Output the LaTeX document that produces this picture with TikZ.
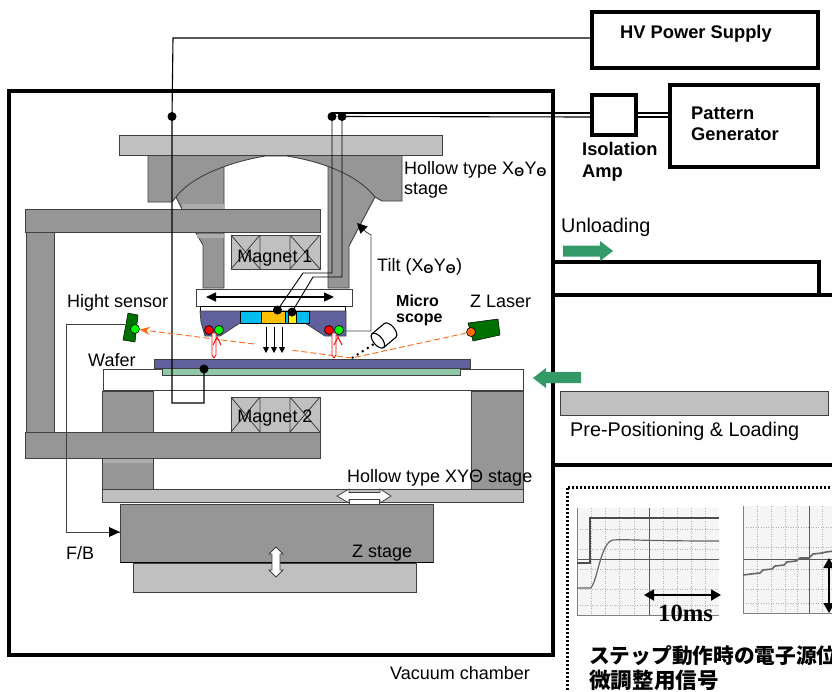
\documentclass[tikz,border=0pt]{standalone}
\usepackage{fontspec}
\setmainfont{Liberation Sans}
\newfontfamily\cjkjp{Noto Sans CJK JP}
\newfontfamily\serifb{Liberation Serif}
\usetikzlibrary{arrows.meta}
\definecolor{stagegray}{HTML}{969696}
\definecolor{lightgray2}{HTML}{C0C0C0}
\definecolor{edgegray}{HTML}{404040}
\definecolor{bodyblue}{HTML}{60609C}
\definecolor{cyanpart}{HTML}{00BFEF}
\definecolor{amberpart}{HTML}{FFC000}
\definecolor{chuckgreen}{HTML}{8FC8A8}
\definecolor{movegreen}{HTML}{339966}
\definecolor{darkgreen}{HTML}{007000}
\definecolor{beamorange}{HTML}{FF6A13}
\newcommand{\thetasub}{\textsubscript{\bfseries Θ}}
\tikzset{
  part/.style={draw=edgegray,line width=0.9pt,fill=stagegray},
  lightpart/.style={draw=edgegray,line width=0.9pt,fill=lightgray2},
  unitbox/.style={draw=black,line width=3.2pt,fill=white,inner sep=0pt},
  wall/.style={draw=black,line width=3.5pt},
  wire/.style={draw=black,line width=1.1pt},
  thinwire/.style={draw=black,line width=0.9pt},
  junction/.style={circle,fill=black,inner sep=0pt,minimum size=9pt},
  txt/.style={anchor=base west,inner sep=0pt,font=\fontsize{18}{20}\selectfont,text=black},
  bigtxt/.style={anchor=base west,inner sep=0pt,font=\fontsize{19.8}{22}\selectfont,text=black},
  btxt/.style={anchor=base west,inner sep=0pt,font=\fontsize{18.3}{20}\selectfont\bfseries},
  movearrow/.style={fill=movegreen,draw=none},
  whitearrow/.style={fill=white,draw=edgegray,line width=0.8pt},
  beam/.style={draw=beamorange,line width=0.9pt,dash pattern=on 6pt off 3pt},
  redbeam/.style={draw=red,line width=0.8pt,fill=white},
  heavyarrow/.style={line width=1.8pt,{Triangle[length=10pt,width=11pt]}-{Triangle[length=10pt,width=11pt]}},
  downarrow/.style={line width=0.9pt,-{Triangle[length=6pt,width=6pt]}},
  lamp/.style={circle,draw=black,line width=0.6pt,inner sep=0pt,minimum size=9pt},
  scopegrid/.style={draw=black!30,line width=0.6pt,dash pattern=on 1pt off 1.5pt},
  scopeaxis/.style={draw=black!65,line width=1pt},
  scopetrace/.style={draw=black!60,line width=1.2pt}
}
\begin{document}
\begin{tikzpicture}[x=1pt,y=-1pt]
\useasboundingbox (0,0) rectangle (832,691);
\fill[white] (0,0) rectangle (832,691);
% chamber and right hand compartments
\draw[wall] (9,91) rectangle (553,655);
\draw[wall] (553,262) -- (819,262) -- (819,295);
\draw[wall] (553,295) -- (834,295);
\draw[wall] (553,465) -- (834,465);
% frame
\path[part] (26,232) rectangle (54,432);
\path[part] (176,197) -- (182,209) -- (224,209) -- (224,160) -- (176,160) -- cycle;
\path[part] (328,160) -- (328,288) -- (349,288) -- (349,246) -- (375,197) -- (375,160) -- cycle;
\path[part] (196,233) -- (203,245) -- (203,288) -- (224,288) -- (224,233) -- cycle;
\fill[black!32] (197,233.5) rectangle (223.5,238);
\fill[black!32] (182,204) rectangle (223.5,208.5);
\path[part] (25,209) rectangle (320,232);
\path[part] (148,155) -- (148,202) -- (172,202) -- (176,197)
  .. controls (190,178) and (225,163) .. (265,156) -- (287,156)
  .. controls (330,163) and (360,178) .. (375,197) -- (382,201) -- (402,201) -- (402,155) -- cycle;
\path[lightpart] (119,135) rectangle (442,155);
% magnet 1
\path[lightpart] (231,235) rectangle (320,269);
\draw[edgegray,line width=0.8pt] (260,235) -- (260,269) (290,235) -- (290,269)
  (231,235) -- (260,269) (231,269) -- (260,235) (290,235) -- (320,269) (290,269) -- (320,235);
% source stage
\path[draw=edgegray,line width=0.8pt,fill=white] (196,289) rectangle (352,306);
\draw[black,line width=1.2pt,{Triangle[length=10pt,width=9pt]}-{Triangle[length=10pt,width=9pt]}] (206,297) -- (334,297);
\path[draw=black,line width=0.8pt,fill=white] (200,306) rectangle (345,311);
\path[draw=edgegray,line width=0.8pt,fill=bodyblue] (200,311) -- (346,311) -- (346,336) -- (325,336)
  -- (305,323) -- (240,323) -- (220,336) -- (205,336) -- (201,322) -- cycle;
\path[draw=black,line width=1pt,fill=cyanpart] (240,311) rectangle (309,323);
\fill[amberpart] (261,312) rectangle (285,322.5);
\fill[yellow] (288,312) rectangle (296,322.5);
\draw[black,line width=0.7pt] (261,311) -- (261,323) (285,311) -- (285,323) (288,311) -- (288,323) (296,311) -- (296,323);
\node[lamp,fill=red] (lampa) at (209,330) {};
\node[lamp,fill=green] (lampb) at (219,330) {};
\node[lamp,fill=red] (lampc) at (329,330) {};
\node[lamp,fill=green] (lampd) at (339,330) {};
\draw[downarrow] (266,327) -- (266,353);
\draw[downarrow] (274,327) -- (274,353);
\draw[downarrow] (282,327) -- (282,353);
% lower table
\path[draw=edgegray,line width=0.8pt,fill=white] (103,369) rectangle (523,390);
\path[draw=edgegray,line width=0.8pt,fill=chuckgreen] (162,368) rectangle (460,375);
\path[draw=edgegray,line width=1pt,fill=bodyblue] (154,359) rectangle (470,368);
\path[part] (102,391) rectangle (153,489);
\path[part] (471,391) rectangle (523,489);
\fill[black!32] (103,458) rectangle (152.5,463);
\path[part] (25,432) rectangle (320,458);
\path[lightpart] (231,397) rectangle (320,432);
\draw[edgegray,line width=0.8pt] (260,397) -- (260,432) (290,397) -- (290,432)
  (231,397) -- (260,432) (231,432) -- (260,397) (290,397) -- (320,432) (290,432) -- (320,397);
\path[lightpart] (102,489) rectangle (523,502);
\path[part] (120,504) rectangle (433,562);
\path[lightpart] (133,563) rectangle (416,592);
\draw[black,line width=1pt] (120,562.5) -- (433,562.5);
% motion arrows
\path[draw=edgegray,line width=0.7pt,fill=white] (349,499) rectangle (379,504);
\path[whitearrow] (337,496) -- (349,489) -- (349,492.5) -- (380,492.5) -- (380,489) -- (391,496) -- (380,503) -- (380,499.5) -- (349,499.5) -- (349,503) -- cycle;
\path[whitearrow] (276,547) -- (283,554) -- (280,554) -- (280,570) -- (283,570) -- (276,577) -- (269,570) -- (272,570) -- (272,554) -- (269,554) -- cycle;
% boxes
\node[unitbox,minimum width=226pt,minimum height=56pt] (hv) at (705,40) {};
\node[unitbox,minimum width=44pt,minimum height=40pt] (iso) at (614,115) {};
\node[unitbox,minimum width=148pt,minimum height=82pt] (pg) at (744,126) {};
% junctions
\node[junction] (jhv) at (172,116.5) {};
\node[junction] (jpa) at (332,116.5) {};
\node[junction] (jpb) at (342,116.5) {};
\node[junction] (jsa) at (277.5,310) {};
\node[junction] (jsb) at (292,312) {};
\node[junction] (jtable) at (204,369) {};
% wires
\draw[wire] (hv.west |- 0,38) -- (173,38) -- (jhv.center) -- (172,403) -- (204,403) -- (jtable.center);
\draw[wire] (iso.west |- 0,113) -- (332,113) -- (jpa.center);
\draw[wire] (iso.west |- 0,117) -- (jpb.center);
\draw[wire] (iso.east |- 0,113) -- (pg.west |- 0,113);
\draw[wire] (iso.east |- 0,117) -- (pg.west |- 0,117);
\draw[thinwire] (jpa.center) -- (332,273) -- (303,273) -- (jsa.center);
\draw[thinwire] (jpb.center) -- (342,277) -- (313,277) -- (jsb.center);
% tilt
\coordinate (tilttip) at (357,223);
\draw[draw=edgegray,line width=0.8pt,-{Triangle[length=10pt,width=10pt,color=black]}] (346,331) -- (371,331) -- (371,235) -- (366,232) -- (tilttip);
% optics
\coordinate (reflect) at (352,358);
\path[draw=black,line width=0.5pt,fill=darkgreen] (128,313) -- (138,315) -- (135,342) -- (123,340) -- cycle;
\node[lamp,fill=green] (sensdot) at (135,329) {};
\path[draw=black,line width=0.5pt,fill=darkgreen] (468,323) -- (498,319) -- (500,335) -- (473,341) -- cycle;
\node[lamp,fill=beamorange] (laserdot) at (471,332) {};
\draw[draw=edgegray,line width=0.9pt] (124.5,324) -- (66,324) -- (66,532) -- (120,532);
\fill[black] (120,532) -- (109,527) -- (109,537) -- cycle;
\draw[beam] (laserdot) -- (reflect) -- (290,350);
\draw[beam,-{Stealth[length=10pt,width=8pt]}] (254,344) -- (sensdot);
% red beams
\path[redbeam] (212,333) -- (212,355) -- (214,358) -- (216,355) -- (216,333) -- cycle;
\draw[red,line width=0.9pt] (213,345) -- (217,337) -- (221,345);
\path[redbeam] (332,333) -- (332,355) -- (334,358) -- (336,355) -- (336,333) -- cycle;
\draw[red,line width=0.9pt] (334,345) -- (338,337) -- (342,345);
% microscope
\begin{scope}[shift={(384,335.5)},rotate=40]
\path[draw=black,line width=1.1pt,fill=white] (-8,-9) -- (8,-9) arc[x radius=4.5,y radius=9,start angle=-90,end angle=90] -- (-8,9) -- cycle;
\draw[black,line width=1.1pt,fill=white] (-8,0) ellipse[x radius=4.5,y radius=9];
\coordinate (scopeend) at (-13.5,0);
\end{scope}
\draw[black,line width=2pt,dash pattern=on 2pt off 4pt] (scopeend) -- (reflect);
% green moving arrows
\path[movearrow] (563,245.5) -- (600,245.5) -- (600,241) -- (613,251) -- (600,261) -- (600,256.5) -- (563,256.5) -- cycle;
\path[movearrow] (581,372) -- (546,372) -- (546,368) -- (533,378) -- (546,388) -- (546,383) -- (581,383) -- cycle;
\path[lightpart] (560,391) rectangle (828,415);
% dotted frame
\draw[black,line width=3pt,dash pattern=on 2pt off 2pt] (838,487) -- (567,487) -- (567,695);
% scope 1
\fill[black!4] (577,508) rectangle (719,615);
\foreach \gx in {591,605,619,634,663,677,691,705} \draw[scopegrid] (\gx,508) -- (\gx,615);
\foreach \gy in {529,549,569,589,605} \draw[scopegrid] (577,\gy) -- (719,\gy);
\draw[scopeaxis] (649,508) -- (649,615);
\draw[scopeaxis] (577,559) -- (719,559);
\draw[black!50,line width=1pt] (577,508) -- (577,615) -- (719,615);
\draw[black!70,line width=2pt] (577,563) -- (590,563) -- (590,518) -- (719,518);
\draw[scopetrace] (577,588) -- (590,588) .. controls (597,586) and (600,542) .. (613,540) .. controls (625,539) and (640,541) .. (719,541);
\coordinate (spana) at (644,595);
\coordinate (spanb) at (721,595);
\draw[heavyarrow] (spana) -- (spanb);
% scope 2
\fill[black!4] (743,506) rectangle (834,613);
\foreach \gx in {757,771,785,797,822} \draw[scopegrid] (\gx,506) -- (\gx,613);
\foreach \gy in {527,547,569,589,603} \draw[scopegrid] (743,\gy) -- (834,\gy);
\draw[scopeaxis] (809,506) -- (809,613);
\draw[scopeaxis] (743,559) -- (834,559);
\draw[black!50,line width=1pt] (743,506) -- (743,613) -- (834,613);
\draw[scopetrace,line width=1.6pt] (743,575) -- (751,574) -- (760,573) -- (763,570) -- (772,569) -- (775,566) -- (784,565) -- (787,562) -- (796,561) -- (800,558) -- (809,558) -- (813,554) -- (822,553) -- (826,552) -- (834,551);
\coordinate (risea) at (829,558);
\coordinate (riseb) at (829,613);
\draw[heavyarrow] (risea) -- (riseb);
% labels
\node[btxt] (thv) at (620,38) {HV Power Supply};
\node[btxt] (tpg) at (691,119) {Pattern};
\node[btxt] (tpgb) at (691,140) {Generator};
\node[btxt] (tiso) at (582,155) {Isolation};
\node[btxt] (tisob) at (582,177) {Amp};
\node[bigtxt] (tunl) at (561,232) {Unloading};
\node[bigtxt] (tpre) at (570,436) {Pre-Positioning \& Loading};
\node[txt] (thol) at (404,174) {Hollow type X\thetasub Y\thetasub};
\node[txt] (tstg) at (404,194) {stage};
\node[txt] (ttilt) at (377,271) {Tilt (X\thetasub Y\thetasub)};
\node[txt,anchor=base] (tm1) at (275,262) {Magnet 1};
\node[txt,anchor=base] (tm2) at (275,422) {Magnet 2};
\node[txt] (tsens) at (67,307) {Hight sensor};
\node[btxt,font=\fontsize{16}{18}\selectfont\bfseries] (tmic) at (396,306) {Micro};
\node[btxt,font=\fontsize{16}{18}\selectfont\bfseries] (tmicb) at (396,322) {scope};
\node[txt] (tz) at (470,307) {Z Laser};
\node[txt] (twaf) at (88,366) {Wafer};
\node[txt] (txy) at (347,482) {Hollow type XYΘ stage};
\node[txt] (tfb) at (66,559) {F/B};
\node[txt] (tzs) at (352,557) {Z stage};
\node[txt] (tvac) at (390,679) {Vacuum chamber};
\node[anchor=base west,inner sep=0pt,font=\serifb\bfseries\fontsize{24.7}{26}\selectfont] (t10) at (658,621) {10ms};
\node[anchor=base west,inner sep=0pt,font=\cjkjp\bfseries\fontsize{20.7}{24}\selectfont] (tj1) at (589,663) {ステップ動作時の電子源位};
\node[anchor=base west,inner sep=0pt,font=\cjkjp\bfseries\fontsize{21.6}{24}\selectfont] (tj2) at (589,688) {微調整用信号};
\end{tikzpicture}
\end{document}
